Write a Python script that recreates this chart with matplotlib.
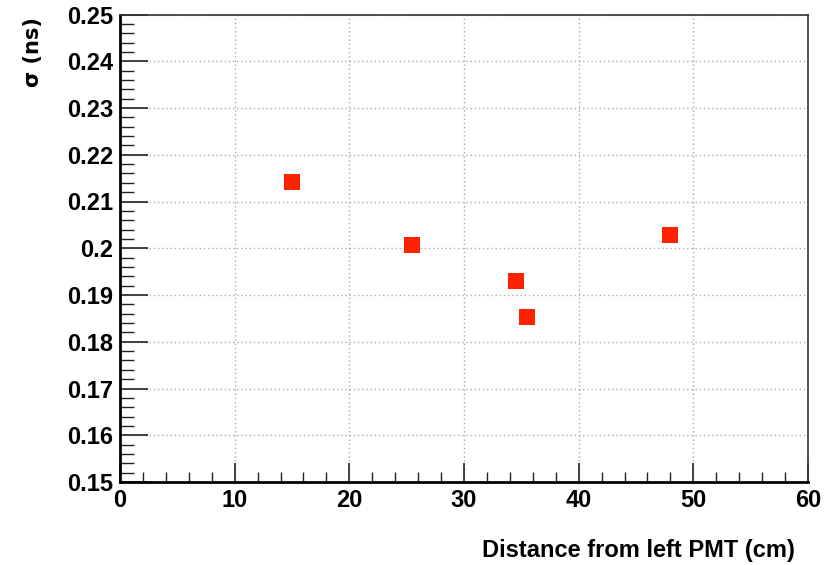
import matplotlib.pyplot as plt
from matplotlib.ticker import MultipleLocator

# sigma vs distance from left PMT
distance = [15.0, 25.5, 34.5, 35.5, 48.0]
sigma = [0.2142, 0.2007, 0.1931, 0.1852, 0.2029]

plt.rcParams['font.family'] = ['Liberation Sans', 'DejaVu Sans']
plt.rcParams['font.weight'] = 'bold'

fig = plt.figure(figsize=(8.37, 5.65), dpi=100)
W, H = 837, 565
ax = fig.add_axes([120 / W, 1 - 482 / H, (808 - 120) / W, (482 - 14.5) / H])

ax.plot(distance, sigma, 's', color='#ff2200', markersize=12.2, markeredgewidth=0)

ax.set_xlim(0, 60)
ax.set_ylim(0.15, 0.25)
ax.xaxis.set_major_locator(MultipleLocator(10))
ax.xaxis.set_minor_locator(MultipleLocator(2))
ax.yaxis.set_major_locator(MultipleLocator(0.01))
ax.yaxis.set_minor_locator(MultipleLocator(0.002))
ax.set_yticklabels([f"{v:g}" for v in ax.get_yticks()])

ax.tick_params(axis='both', which='both', direction='in', top=False, right=False,
               labelsize=17, color='#222222')
ax.tick_params(axis='y', which='major', length=20, width=1.2, pad=5)
ax.tick_params(axis='y', which='minor', length=10, width=1)
ax.tick_params(axis='x', which='major', length=14, width=1.2, pad=5)
ax.tick_params(axis='x', which='minor', length=7, width=1)

ax.grid(True, which='major', color='#aaaaaa', linestyle=(0, (1, 2)), linewidth=1)

for side in ['left', 'bottom']:
    ax.spines[side].set_linewidth(2)
for side in ['top', 'right']:
    ax.spines[side].set_linewidth(1.2)
    ax.spines[side].set_color('#333333')

fig.text(795 / W, 1 - 550 / H, 'Distance from left PMT (cm)', ha='right', va='center',
         fontsize=17, fontweight='bold')
fig.text(33 / W, 1 - 52 / H, 'σ (ns)', ha='center', va='center', rotation=90,
         fontsize=15, fontweight='bold', family=['DejaVu Sans'])

fig.savefig('out.png', dpi=100)
